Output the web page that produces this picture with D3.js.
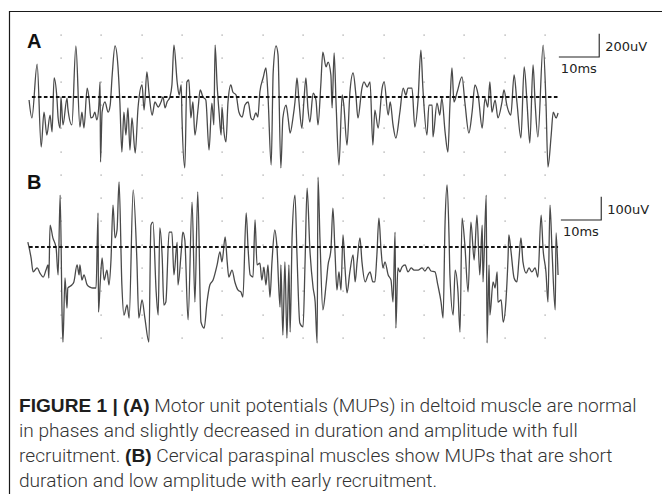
<!DOCTYPE html>
<html>
<head>
<meta charset="utf-8">
<script src="https://cdn.jsdelivr.net/npm/d3@7"></script>
<style>
  body { margin: 0; background: #fff; }
  svg { display: block; }
</style>
</head>
<body>
<svg id="chart" width="662" height="494"></svg>
<script>
(function () {
  'use strict';

  // grid: one dot column every 10 ms, 14 dot rows over both panels
  var gridTimes = [10, 20, 30, 40, 50, 60, 70, 80, 90, 100, 110, 120, 130];
  var gridRows = d3.range(14);

  // [ms, uV] - deltoid (A)
  var traceA = [
    [2.1, -26], [2.8, -180], [4.1, 283], [5.1, -429], [5.8, -129], [6.5, -326], [7.3, -155], [7.8, -300],
    [8.3, 163], [9.0, -9], [9.3, -180], [9.8, -266], [10.0, 0], [10.5, -240], [11.5, -9], [11.7, -94],
    [12.7, -240], [13.7, 438], [14.7, -258], [15.2, -129], [15.7, -266], [16.5, 77], [17.0, -26], [17.4, -180],
    [17.9, -172], [18.4, -129], [18.9, -197], [19.4, -69], [19.7, 129], [19.8, -558], [20.2, -129], [20.9, -43],
    [21.7, -129], [22.2, -69], [22.7, 189], [23.4, 438], [24.1, 275], [24.6, -43], [25.1, -472], [25.6, -129],
    [26.1, -326], [26.6, -94], [27.1, -455], [27.6, -180], [28.4, -481], [29.1, -94], [30.1, 103], [30.6, -112],
    [31.3, 215], [31.8, 43], [32.6, -155], [33.3, -43], [34.1, -86], [34.8, -43], [35.3, 0], [35.8, -94],
    [36.3, -43], [37.0, 0], [37.5, 103], [38.0, 446], [38.8, 129], [39.3, 17], [39.8, 103], [40.0, -180],
    [40.7, -609], [41.2, 129], [41.7, 146], [42.2, -180], [42.7, -43], [43.2, -326], [44.0, -94], [44.5, 60],
    [45.2, 0], [45.9, -26], [46.7, -455], [47.4, -52], [47.9, -240], [48.2, 446], [48.7, 103], [49.2, -137],
    [49.7, -326], [49.9, -86], [50.4, -300], [50.9, -386], [51.4, -43], [52.1, 103], [52.6, 43], [53.4, 17],
    [54.1, -129], [54.9, -172], [55.6, -69], [56.4, -43], [57.1, -180], [57.6, -197], [58.3, -137], [58.8, -172],
    [59.3, 43], [60.1, 163], [60.8, 249], [61.3, 17], [62.1, -584], [62.6, 215], [63.3, 438], [63.8, 361],
    [64.5, -609], [65.0, -180], [65.8, -69], [66.3, -180], [66.8, -309], [67.5, -180], [68.0, -43], [68.5, 163],
    [69.0, -43], [69.7, -266], [70.2, -43], [70.7, 163], [71.2, -94], [71.7, -215], [72.5, 34], [73.2, -26],
    [73.7, -240], [74.4, 103], [74.9, 386], [75.7, 258], [76.2, 300], [76.9, 189], [77.2, -94], [77.7, 378],
    [78.2, -69], [78.9, -584], [79.7, 17], [80.1, -69], [80.9, -412], [81.6, 34], [82.4, 206], [83.1, 17],
    [83.6, -180], [84.6, 77], [85.1, 129], [85.9, 86], [86.6, 129], [87.3, -412], [87.8, -112], [88.6, -266],
    [89.6, 77], [90.1, 129], [91.1, -155], [91.6, -43], [92.3, -240], [93.0, -352], [94.0, -129], [94.8, 77],
    [95.5, 17], [96.0, 77], [97.0, 77], [97.7, -258], [98.5, -26], [99.2, 403], [99.7, 77], [100.7, -326],
    [101.2, -69], [102.0, -69], [102.2, -343], [103.2, -52], [103.9, -155], [104.4, -9], [105.2, -300], [105.9, -472],
    [106.4, -69], [106.9, 249], [107.4, -43], [108.2, 43], [109.4, 172], [110.1, -43], [111.1, -309], [111.9, -129],
    [112.6, 103], [113.4, 17], [114.4, -266], [115.1, -9], [115.8, -86], [116.3, 129], [116.8, -129], [117.6, -26],
    [118.3, -180], [119.3, -43], [119.8, 60], [120.5, -69], [121.5, -155], [122.3, 189], [123.0, -43], [124.0, -352],
    [124.8, 258], [125.5, -43], [126.2, -395], [127.0, 275], [127.5, -43], [128.2, -343], [129.5, 446], [130.2, -43],
    [130.7, -601], [131.5, -326], [132.0, -129], [132.7, -180], [133.2, -137]
  ];

  // [ms, uV] - cervical paraspinal (B)
  var traceB = [
    [1.8, 21], [2.6, -47], [3.1, -107], [4.1, -90], [4.8, -112], [5.6, -129], [6.3, -99], [6.8, -77],
    [7.0, -133], [7.3, 94], [8.0, 39], [8.8, -4], [9.3, -120], [9.8, 223], [10.3, -305], [10.5, -408],
    [11.0, -133], [11.5, -262], [11.7, -176], [12.7, -163], [13.2, -150], [14.0, -77], [14.5, -120], [14.7, -77],
    [15.2, -142], [15.7, -120], [16.5, -163], [17.2, -172], [17.9, -176], [18.7, -176], [19.2, 146], [19.3, -279],
    [19.7, -163], [20.2, -47], [20.7, -142], [21.4, -99], [21.9, -163], [22.4, -56], [22.9, 180], [23.4, 39],
    [23.9, 73], [24.4, 279], [25.1, -163], [25.6, -292], [26.4, -249], [26.9, -305], [27.9, 245], [28.8, -47],
    [29.3, -305], [30.1, -227], [30.8, -305], [31.8, -408], [32.3, 94], [32.8, 107], [33.6, -193], [34.1, -292],
    [34.5, 82], [35.1, -47], [35.5, -249], [36.0, -236], [36.8, 64], [37.5, 64], [38.0, -120], [38.8, 21],
    [39.0, -163], [39.8, -21], [40.2, 64], [40.7, 30], [41.5, -313], [42.5, 193], [43.2, -236], [43.9, 236],
    [44.7, -322], [45.5, -348], [46.2, -236], [46.9, -163], [47.7, -142], [48.7, -77], [49.4, -21], [49.9, -64],
    [50.7, 43], [51.2, -64], [51.6, -129], [52.4, -99], [53.1, -150], [53.9, -185], [54.6, -193], [55.1, -215],
    [55.9, 146], [56.4, -13], [56.9, -120], [57.6, -129], [58.1, 116], [58.6, -77], [59.3, -69], [59.8, -142],
    [60.3, -86], [60.8, -163], [61.3, -77], [61.8, -215], [62.3, -64], [63.0, 73], [63.5, 9], [64.3, -258],
    [64.5, -77], [65.0, -378], [65.5, -64], [66.0, -391], [66.5, -77], [66.8, -365], [67.3, 52], [68.0, 223],
    [68.5, -34], [69.2, -326], [70.0, -343], [70.5, -64], [71.0, 253], [71.7, -13], [72.5, -176], [73.0, -236],
    [73.5, -412], [73.7, 300], [74.2, 30], [74.9, -270], [75.7, -163], [76.2, -77], [76.9, -13], [77.4, 167],
    [77.9, -13], [78.4, -185], [78.9, -107], [79.4, -185], [79.9, 52], [80.4, -90], [80.9, -197], [81.6, -107],
    [82.4, -34], [82.9, -150], [83.4, -64], [84.1, 39], [84.6, -64], [85.4, -150], [86.1, -120], [86.6, -107],
    [87.3, -150], [87.8, -150], [88.3, -34], [88.8, 124], [89.3, -4], [89.8, -90], [90.3, -64], [91.1, -120],
    [91.8, -142], [92.3, -236], [92.8, 64], [93.0, -348], [93.5, -90], [94.0, -107], [94.5, -86], [95.3, -77],
    [96.0, -107], [96.8, -90], [97.5, -99], [98.5, -99], [99.5, -90], [100.2, -103], [101.0, -86], [101.7, -103],
    [102.7, -107], [103.4, -163], [104.2, -236], [104.7, -305], [105.2, 107], [105.7, 266], [106.2, 30], [106.4, -120],
    [107.2, -292], [107.7, -99], [108.4, -193], [108.9, -365], [109.4, 124], [110.1, 9], [110.9, -193], [111.6, 107],
    [112.4, -56], [113.1, 137], [113.8, -120], [114.4, 94], [114.6, -150], [115.4, 223], [115.6, -412], [116.1, -77],
    [116.3, -292], [117.1, -150], [117.6, -176], [118.1, -107], [118.3, -236], [119.1, -227], [119.6, -322], [120.3, -227],
    [120.8, -47], [121.0, 52], [121.5, -13], [122.3, -133], [123.0, -150], [123.5, -56], [124.0, 39], [124.5, -64],
    [125.3, -112], [126.0, -90], [126.7, -107], [127.5, -90], [128.2, -129], [129.0, 137], [129.5, -13], [130.2, -107],
    [130.7, -236], [131.2, 180], [131.7, -13], [132.5, -270], [132.7, 60], [133.2, -120]
  ];

  var panelLabels = ['A', 'B'];
  var baselineSpan = [[2.8, 133.4], [2.1, 133.2]];
  var barAmplitudes = [200, 100];
  var barDuration = 10;

  var captionLines = [
    [['FIGURE 1 | (A)', true], [' Motor unit potentials (MUPs) in deltoid muscle are normal', false]],
    [['in phases and slightly decreased in duration and amplitude with full', false]],
    [['recruitment. ', false], ['(B)', true], [' Cervical paraspinal muscles show MUPs that are short', false]],
    [['duration and low amplitude with early recruitment.', false]]
  ];

  var svg = d3.select('#chart');

  var x = d3.scaleLinear().domain([0, 130]).range([20.6, 545.15]);
  var rowY = d3.scaleLinear().domain([0, 13]).range([35, 338]);
  var yA = d3.scaleLinear().domain([0, 200]).range([97, 73.7]);
  var yB = d3.scaleLinear().domain([0, 100]).range([247, 223.7]);

  // frame (only top and left edges fall inside the picture)
  svg.append('path')
    .attr('d', 'M9.5,494V11.5H662')
    .attr('fill', 'none')
    .attr('stroke', '#1a1a1a')
    .attr('stroke-width', 1.2);

  svg.append('g').selectAll('rect')
    .data(d3.cross(gridTimes, gridRows))
    .join('rect')
    .attr('x', function (d) { return Math.round(x(d[0])) - 0.5; })
    .attr('y', function (d) { return Math.round(rowY(d[1])) - 0.5; })
    .attr('width', 1.2)
    .attr('height', 1.2)
    .attr('fill', '#999');

  var panels = [
    { trace: traceA, y: yA, labelY: 48, barT: 133.4, barV: 343 },
    { trace: traceB, y: yB, labelY: 189, barT: 133.9, barV: 116 }
  ];

  panels.forEach(function (p, i) {
    var g = svg.append('g');
    var line = d3.line()
      .x(function (d) { return x(d[0]); })
      .y(function (d) { return p.y(d[1]); })
      .curve(d3.curveMonotoneX);

    g.append('path')
      .datum(p.trace)
      .attr('d', line)
      .attr('fill', 'none')
      .attr('stroke', '#4a4a4a')
      .attr('stroke-width', 1.3)
      .attr('stroke-linejoin', 'round');

    g.append('line')
      .attr('x1', x(baselineSpan[i][0]))
      .attr('x2', x(baselineSpan[i][1]))
      .attr('y1', p.y(0))
      .attr('y2', p.y(0))
      .attr('stroke', '#111')
      .attr('stroke-width', 2.2)
      .attr('stroke-dasharray', '3.6,2.4');

    g.append('text')
      .attr('x', 27)
      .attr('y', p.labelY)
      .attr('font-family', 'Liberation Sans, Arial, sans-serif')
      .attr('font-weight', 'bold')
      .attr('font-size', 20)
      .attr('fill', '#111')
      .text(panelLabels[i]);

    var amp = barAmplitudes[i];
    g.append('path')
      .attr('d', 'M' + x(p.barT) + ',' + p.y(p.barV) +
        'H' + x(p.barT + barDuration) + 'V' + p.y(p.barV + amp))
      .attr('fill', 'none')
      .attr('stroke', '#222')
      .attr('stroke-width', 1.1);

    g.append('text')
      .attr('x', x(p.barT + barDuration) + 6)
      .attr('y', p.y(p.barV) - 6)
      .attr('font-family', 'DejaVu Sans, Verdana, sans-serif')
      .attr('font-size', 13)
      .attr('fill', '#222')
      .text(amp + 'uV');

    g.append('text')
      .attr('x', x(p.barT) + 2)
      .attr('y', p.y(p.barV) + 16)
      .attr('font-family', 'DejaVu Sans, Verdana, sans-serif')
      .attr('font-size', 13)
      .attr('fill', '#222')
      .text(barDuration + 'ms');
  });

  // caption
  var cap = svg.append('g')
    .attr('font-size', 16)
    .attr('fill', '#333');

  var rows = cap.selectAll('text')
    .data(captionLines)
    .join('text')
    .attr('x', 19)
    .attr('y', function (d, i) { return 412 + i * 25; });

  rows.selectAll('tspan')
    .data(function (d) { return d; })
    .join('tspan')
    .attr('font-family', function (d) {
      return d[1] ? 'Liberation Sans, Arial, sans-serif' : 'Roboto, Liberation Sans, sans-serif';
    })
    .attr('font-weight', function (d) { return d[1] ? 700 : 300; })
    .attr('fill', function (d) { return d[1] ? '#1e1e1e' : '#333'; })
    .text(function (d) { return d[0]; });

  // fit the all-regular second line to its width in the picture
  var w = rows.nodes()[1].getComputedTextLength();
  if (w > 0) {
    cap.attr('font-size', 16 * 559 / w);
  }
})();
</script>
</body>
</html>
